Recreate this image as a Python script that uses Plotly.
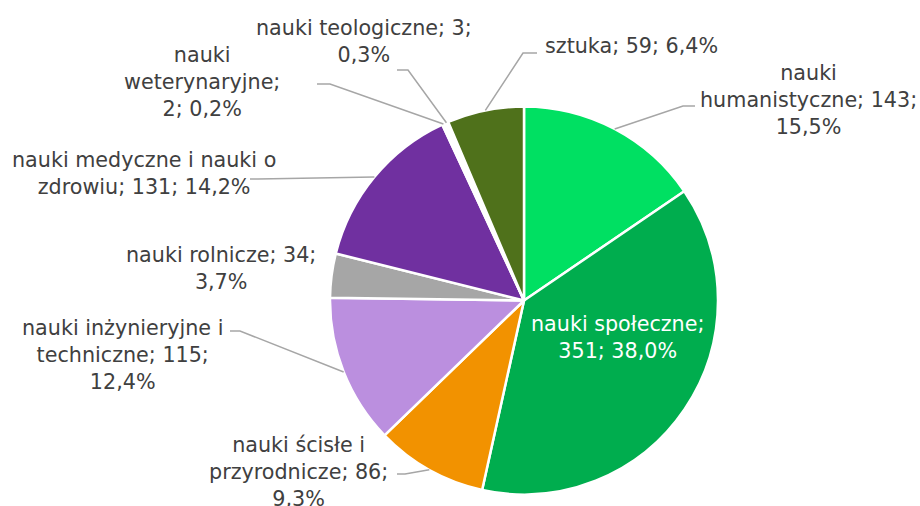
import math
import plotly.graph_objects as go

# ---- data ----
categories = ["nauki humanistyczne", "nauki społeczne", "nauki ścisłe i przyrodnicze",
              "nauki inżynieryjne i techniczne", "nauki rolnicze",
              "nauki medyczne i nauki o zdrowiu", "nauki weterynaryjne",
              "nauki teologiczne", "sztuka"]
values = [143, 351, 86, 115, 34, 131, 2, 3, 59]
# label text templates (line breaks as in the reference)
label_templates = [
    "nauki<br>humanistyczne; {v};<br>{p}",
    "nauki społeczne;<br>{v}; {p}",
    "nauki ścisłe i<br>przyrodnicze; {v};<br>{p}",
    "nauki inżynieryjne i<br>techniczne; {v};<br>{p}",
    "nauki rolnicze; {v};<br>{p}",
    "nauki medyczne i nauki o<br>zdrowiu; {v}; {p}",
    "nauki<br>weterynaryjne;<br>{v}; {p}",
    "nauki teologiczne; {v};<br>{p}",
    "sztuka; {v}; {p}",
]
colors = ["#00E062", "#00AD4E", "#F29200", "#BB8FDF", "#A6A6A6",
          "#7030A0", "#FFFFFF", "#FFFFFF", "#4F711B"]

# ---- layout (pixels) ----
W, H = 920, 506
CX, CY, R = 524, 300.5, 194
label_pos = [(808, 100), (617, 337), (298, 472), (122, 355), (221, 268),
             (144, 173), (202, 82), (364, 42), (631, 46)]
text_colors = ["#404040", "#FFFFFF"] + ["#404040"] * 7
# leader line start (label side) and elbow, None = no leader
leader_pts = [((695, 106), (683, 106)), None, ((397, 474), (405, 474)),
              ((230, 331), (240, 331)), None, ((250, 179), (258, 179)),
              ((317, 84), (330, 84)), ((397, 70), (408, 70)),
              ((537, 53), (523, 53))]


def px(x):
    return x / W


def py(y):
    return 1 - y / H


total = sum(values)

fig = go.Figure(go.Pie(
    labels=categories, values=values, sort=False, direction="clockwise",
    rotation=0, textinfo="none", hoverinfo="label+value+percent",
    marker=dict(colors=colors, line=dict(color="white", width=2.5)),
    domain=dict(x=[px(CX - R), px(CX + R)], y=[py(CY + R), py(CY - R)]),
    showlegend=False,
))

annotations = []
shapes = []
cum = 0
for i, (cat, v) in enumerate(zip(categories, values)):
    pct = f"{v / total * 100:.1f}".replace(".", ",") + "%"
    txt = label_templates[i].format(v=v, p=pct)
    lx, ly = label_pos[i]
    annotations.append(dict(
        x=px(lx), y=py(ly), xref="paper", yref="paper", text=txt,
        showarrow=False, xanchor="center", yanchor="middle", align="center",
        font=dict(family="DejaVu Sans, Verdana, sans-serif", size=20.7,
                  color=text_colors[i])))
    mid = (cum + v / 2) / total * 2 * math.pi
    cum += v
    ax = CX + R * math.sin(mid)
    ay = CY - R * math.cos(mid)
    if leader_pts[i] is not None:
        (x0, y0), (x1, y1) = leader_pts[i]
        path = (f"M {px(x0)} {py(y0)} L {px(x1)} {py(y1)} "
                f"L {px(ax)} {py(ay)}")
        shapes.append(dict(type="path", xref="paper", yref="paper", path=path,
                           line=dict(color="#A6A6A6", width=1.5)))

fig.update_layout(
    width=W, height=H, margin=dict(l=0, r=0, t=0, b=0),
    paper_bgcolor="white", plot_bgcolor="white",
    annotations=annotations, shapes=shapes,
)

fig.write_html("out.html", config={"displayModeBar": False},
               post_script="document.body.style.margin='0';document.body.style.overflow='hidden';")
